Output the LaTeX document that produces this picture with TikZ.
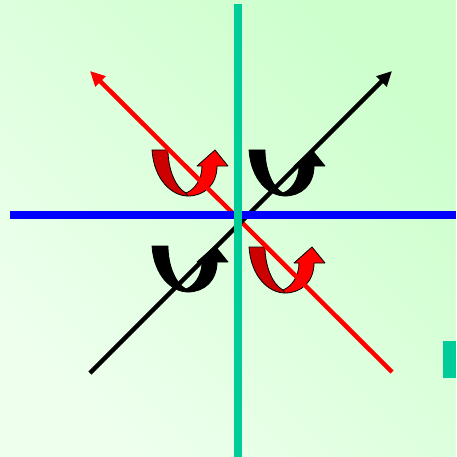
\documentclass[tikz,border=0pt]{standalone}
\usepackage{tikz}
\usetikzlibrary{arrows.meta}
\definecolor{bglight}{HTML}{EEFFEE}
\definecolor{bgdark}{HTML}{CCFFCC}
\definecolor{axisteal}{HTML}{00CC99}
\definecolor{axisblue}{HTML}{0000FF}
\definecolor{turnred}{HTML}{FF0000}
\definecolor{turndark}{HTML}{CC0000}
\tikzset{
  axisline/.style={line width=8pt},
  diagline/.style={line width=4.5pt, -{Triangle[length=15pt,width=14pt]}},
  face/.style={draw=black, line width=0.8pt, line join=round, fill=#1},
  pics/turn/.style 2 args={code={
    % back of the ribbon
    \path[face=#1] (0,0) .. controls (2,30) and (20,46) .. (36,46)
      -- (34,43) .. controls (24,38) and (16,20) .. (16,0) -- cycle;
    % front of the ribbon with head
    \path[face=#2] (36,46) .. controls (52,46) and (65,35) .. (65,16)
      -- (76,16) -- (63,0) -- (45,16) -- (50,16)
      .. controls (50,30) and (42,40) .. (34,43) -- cycle;
  }},
}
\begin{document}
\begin{tikzpicture}[x=1pt,y=-1pt]
  \useasboundingbox (0,0) rectangle (456,457);
  \shade[top color=bgdark, bottom color=bglight, shading angle=-45]
    (0,0) rectangle (456,457);
  % the four turning arrows
  \pic at (152,150) {turn={turndark}{turnred}};
  \pic at (249,150) {turn={black}{black}};
  \pic at (152,246) {turn={black}{black}};
  \pic at (249,247) {turn={turndark}{turnred}};
  % diagonal axes
  \coordinate (redtail) at (392,372);
  \coordinate (redtip) at (90,71);
  \coordinate (blacktail) at (90,373);
  \coordinate (blacktip) at (392,71);
  \draw[diagline, turnred] (redtail) -- (redtip);
  \draw[diagline, black] (blacktail) -- (blacktip);
  % horizontal and vertical axes
  \coordinate (hleft) at (10,215);
  \coordinate (hright) at (456,215);
  \coordinate (vtop) at (238,4);
  \coordinate (vbottom) at (238,457);
  \draw[axisline, axisblue] (hleft) -- (hright);
  \draw[axisline, axisteal] (vtop) -- (vbottom);
  \fill[axisteal] (443,341) rectangle (456,378);
\end{tikzpicture}
\end{document}
